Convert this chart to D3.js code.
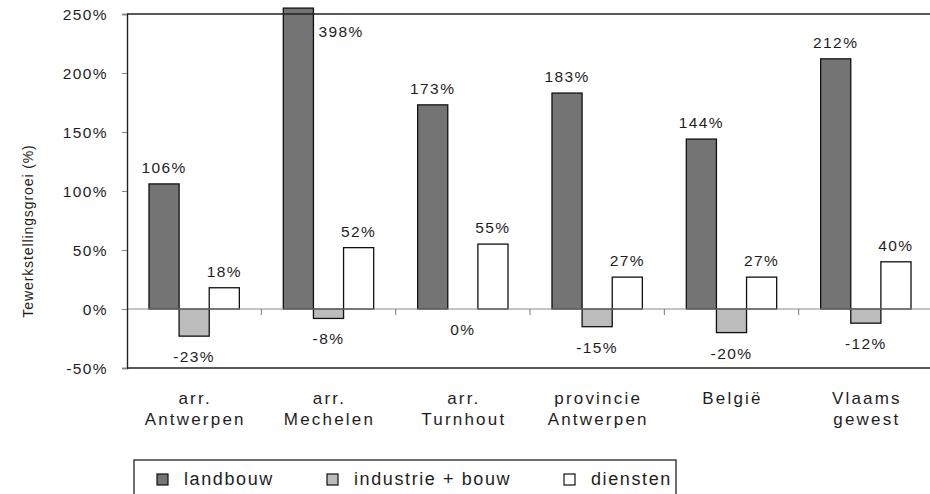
<!DOCTYPE html>
<html>
<head>
<meta charset="utf-8">
<script src="https://cdn.jsdelivr.net/npm/d3@7"></script>
<style>
  html, body { margin: 0; padding: 0; background: #fff; }
  svg { display: block; font-family: "Liberation Sans", Arial, sans-serif; }
</style>
</head>
<body>
<svg id="chart" width="930" height="494"></svg>
<script>
const categories = [["arr.", "Antwerpen"], ["arr.", "Mechelen"], ["arr.", "Turnhout"], ["provincie", "Antwerpen"], ["België"], ["Vlaams", "gewest"]];
const series = ["landbouw", "industrie + bouw", "diensten"];
const landbouw = [106, 398, 173, 183, 144, 212];
const industrie = [-23, -8, 0, -15, -20, -12];
const diensten = [18, 52, 55, 27, 27, 40];
const yTicks = [-50, 0, 50, 100, 150, 200, 250];
const yTitle = "Tewerkstellingsgroei (%)";

(function () {
const values = [landbouw, industrie, diensten];
const fills = ["#747474", "#bcbcbc", "#ffffff"];

const svg = d3.select("#chart");
const pLeft = 127, pRight = 933, pTop = 14, pBottom = 368;

const x0 = d3.scaleBand().domain(d3.range(categories.length)).range([pLeft, pRight]).paddingInner(0).paddingOuter(0);
const x1 = d3.scaleBand().domain(d3.range(series.length)).range([0, x0.bandwidth()]).paddingInner(0).paddingOuter(0.73);
const y = d3.scaleLinear().domain([-50, 250]).range([pBottom, pTop]);
const yClip = 255;

const textColor = "#1e1e1e";

// bars
const g = svg.append("g");
values.forEach((vals, s) => {
  g.selectAll(null).data(vals).enter().append("rect")
    .attr("x", (d, i) => x0(i) + x1(s))
    .attr("width", x1.bandwidth())
    .attr("y", d => y(Math.min(Math.max(d, 0), yClip)))
    .attr("height", d => Math.abs(y(Math.min(d, yClip)) - y(0)))
    .attr("fill", fills[s])
    .attr("stroke", "#111")
    .attr("stroke-width", 1.3)
    .style("display", d => d === 0 ? "none" : null);
});

// zero line
svg.append("line").attr("x1", pLeft).attr("x2", pRight).attr("y1", y(0)).attr("y2", y(0))
  .attr("stroke", "#8a8a8a").attr("stroke-width", 1);
// category ticks on zero line
svg.selectAll(null).data(d3.range(1, categories.length)).enter().append("line")
  .attr("x1", i => x0(i)).attr("x2", i => x0(i))
  .attr("y1", y(0)).attr("y2", y(0) + 6)
  .attr("stroke", "#777").attr("stroke-width", 1);

// frame lines
svg.append("line").attr("x1", pLeft).attr("x2", pRight).attr("y1", pTop).attr("y2", pTop).attr("stroke", "#222").attr("stroke-width", 1.4);
svg.append("line").attr("x1", pLeft).attr("x2", pRight).attr("y1", pBottom).attr("y2", pBottom).attr("stroke", "#222").attr("stroke-width", 1.6);

// y axis
const yAxis = d3.axisLeft(y).tickValues(yTicks).tickSize(5).tickPadding(14).tickFormat(d => d + "%");
const ya = svg.append("g").attr("transform", `translate(${pLeft},0)`).call(yAxis);
ya.select(".domain").attr("stroke", "#222").attr("stroke-width", 1.4);
ya.selectAll(".tick line").attr("stroke", "#888");
ya.selectAll(".tick text").attr("font-size", 15.5).attr("letter-spacing", "1.4px").attr("fill", textColor)
  .attr("font-family", "Liberation Sans, Arial, sans-serif").attr("dy", "0.36em");

// y title
svg.append("text").attr("transform", `translate(33,231) rotate(-90)`)
  .attr("text-anchor", "middle").attr("font-size", 14).attr("letter-spacing", "0.9px")
  .attr("fill", textColor).text(yTitle);

// category labels
categories.forEach((lines, i) => {
  const t = svg.append("text").attr("text-anchor", "middle").attr("font-size", 17)
    .attr("letter-spacing", "2.2px").attr("fill", textColor);
  lines.forEach((l, k) => {
    t.append("tspan").attr("x", x0(i) + x0.bandwidth() / 2 + 1).attr("y", 404 + k * 21).text(l);
  });
});

// value labels
values.forEach((vals, s) => {
  vals.forEach((d, i) => {
    const cx = x0(i) + x1(s) + x1.bandwidth() / 2;
    let tx = cx, ty, anchor = "middle";
    if (d > yClip) {
      tx = x0(i) + x1(s) + x1.bandwidth() + 5; ty = y(yClip) + 29; anchor = "start";
    } else if (d > 0) {
      ty = y(d) - 11;
    } else {
      ty = y(d) + 26;
    }
    svg.append("text").attr("x", tx).attr("y", ty).attr("text-anchor", anchor)
      .attr("font-size", 15.5).attr("letter-spacing", "1.4px").attr("fill", textColor)
      .text(d + "%");
  });
});

// legend
const lg = svg.append("g");
lg.append("rect").attr("x", 134).attr("y", 460).attr("width", 542).attr("height", 60)
  .attr("fill", "none").attr("stroke", "#222").attr("stroke-width", 1.3);
const legX = [157, 327, 564];
series.forEach((name, s) => {
  lg.append("rect").attr("x", legX[s]).attr("y", 474).attr("width", 11).attr("height", 11)
    .attr("fill", fills[s]).attr("stroke", "#111").attr("stroke-width", 1.2);
  lg.append("text").attr("x", legX[s] + 27).attr("y", 485).attr("font-size", 18)
    .attr("letter-spacing", "1.6px").attr("fill", textColor).text(name);
});
})();
</script>
</body>
</html>
